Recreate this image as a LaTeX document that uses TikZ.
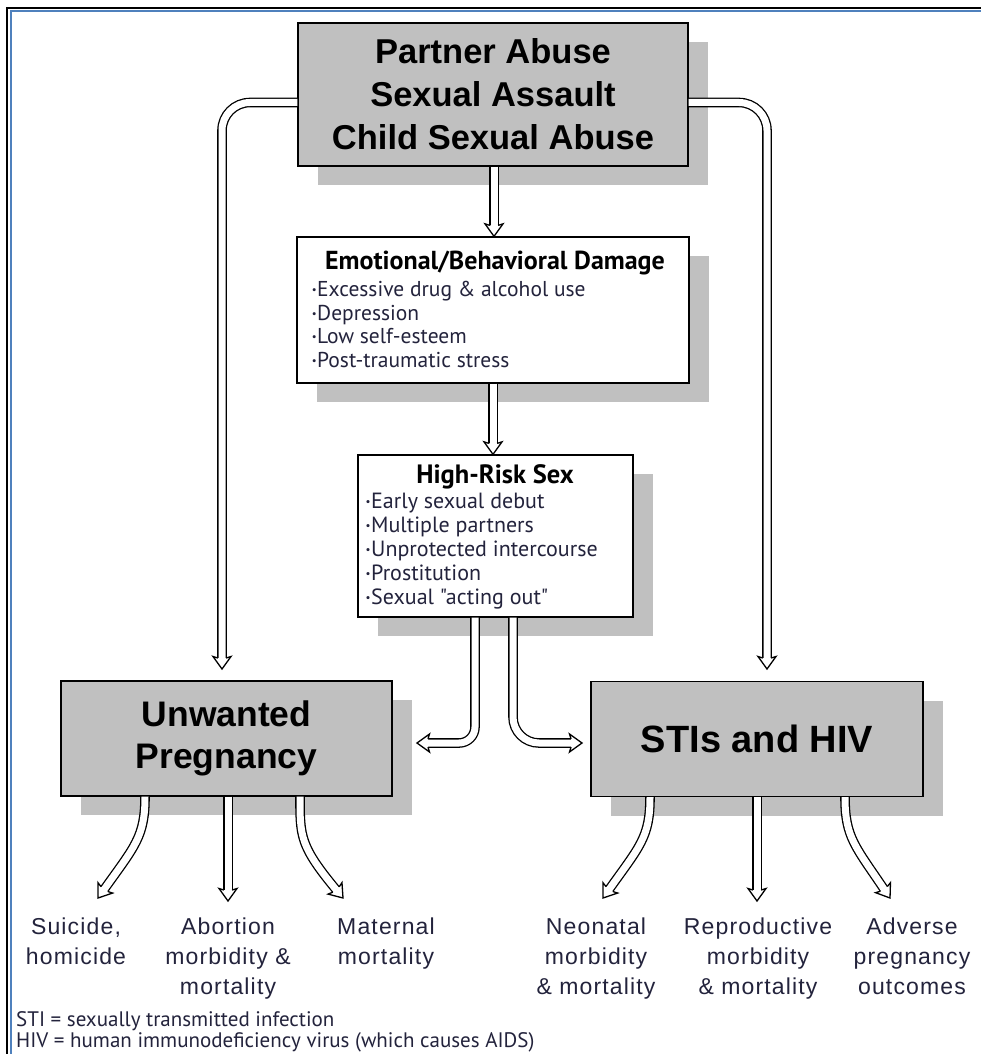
\documentclass[tikz,border=0pt]{standalone}
\usepackage{fontspec}
\setmainfont{Liberation Sans}
\newfontfamily\hum{PT Sans}
\usetikzlibrary{shadows,decorations.markings}
\definecolor{boxgray}{RGB}{192,192,192}
\definecolor{txt}{RGB}{35,35,60}
\definecolor{pageblue}{RGB}{79,129,189}
\newcommand\blt{\makebox[0pt][r]{\raisebox{.28ex}{\scalebox{.5}{•}}\kern0.5pt}}
\tikzset{
  box/.style={draw=black, line width=1.3pt, fill=boxgray, inner sep=0pt,
    general shadow={fill=boxgray, shadow xshift=20pt, shadow yshift=-19pt}},
  wbox/.style={box, fill=white},
  pipe/.style={draw=black, line width=1.3pt, double=white, double distance=7pt},
  head/.style={draw=black, fill=white, line width=1.3pt, line join=miter},
  lab/.style={font=\addfontfeature{LetterSpace=5}\fontsize{23}{30}\selectfont, text=txt, align=center, anchor=north, inner sep=0pt},
  foot/.style={font=\hum\fontsize{21}{24}\selectfont, text=txt, anchor=west, inner sep=0pt},
}
\newcommand\darrow[2][]{%
  \draw[pipe,#1,shorten >=10.5pt] #2;
  \path[decorate,decoration={markings,mark=at position 1 with {%
    \draw[head] (-11,-4.15) -- (-12.5,-9) -- (0,0) -- (-12.5,9) -- (-11,4.15);}}] #2;
}
\begin{document}
\begin{tikzpicture}[x=1pt,y=-1pt]
\useasboundingbox (0,0) rectangle (981,1054);
\fill[white] (0,0) rectangle (981,1054);
% page frame
\draw[pageblue, line width=2pt] (11,1060) -- (11,11.5) -- (990,11.5);
\draw[black, line width=2pt] (7,1060) -- (7,8) -- (990,8);

% boxes
\node[box, minimum width=390pt, minimum height=143pt, align=center,
  font=\fontsize{34.5}{43}\selectfont\bfseries] (top) at (493,94.5)
  {Partner Abuse\\Sexual Assault\\Child Sexual Abuse};
\node[wbox, minimum width=392pt, minimum height=146pt] (emo) at (493,310) {};
\node[wbox, minimum width=275pt, minimum height=162pt] (hr) at (495.5,536) {};
\node[box, minimum width=331pt, minimum height=115pt, align=center,
  font=\fontsize{35.5}{42}\selectfont\bfseries] (unw) at (226.5,738.5) {Unwanted\\Pregnancy};
\node[box, minimum width=332pt, minimum height=115pt,
  font=\fontsize{38}{42}\selectfont\bfseries] (sti) at (757,739) {STIs and HIV};

% box texts
\node[font=\hum\fontsize{26}{28}\selectfont\bfseries, inner sep=0pt] (emot) at (495,263)
  {Emotional/Behavioral Damage};
\node[font=\hum\fontsize{21.5}{23.7}\selectfont, text=txt, align=left, anchor=west, inner sep=0pt]
  (emol) at (317,324.5)
  {\blt Excessive drug \& alcohol use\\\blt Depression\\\blt Low self-esteem\\\blt Post-traumatic stress};
\node[font=\hum\fontsize{26.5}{28}\selectfont\bfseries, inner sep=0pt] (hrt) at (495,477)
  {High-Risk Sex};
\node[font=\hum\fontsize{22}{24}\selectfont, text=txt, align=left, anchor=west, inner sep=0pt]
  (hrl) at (371,551)
  {\blt Early sexual debut\\\blt Multiple partners\\\blt Unprotected intercourse\\\blt Prostitution\\\blt Sexual "acting out"};

% tips
\coordinate (tipL) at (222,669);
\coordinate (tipR) at (767,669);
\coordinate (tipHL) at (417,743);
\coordinate (tipHR) at (582,743);
\coordinate (b1) at (98,898);
\coordinate (b2) at (228,901);
\coordinate (b3) at (343,898);
\coordinate (b4) at (603,898);
\coordinate (b5) at (757,901);
\coordinate (b6) at (890,898);

% connectors
\darrow[rounded corners=28pt]{([yshift=-8pt]top.west) -| (tipL)}
\darrow[rounded corners=28pt]{([yshift=-8pt]top.east) -| (tipR)}
\darrow{([xshift=1pt]top.south) -- ([xshift=1pt]top.south |- emo.north)}
\darrow{(emo.south) -- (emo.south |- hr.north)}
\darrow[rounded corners=16pt]{([xshift=-20.5pt]hr.south) |- (tipHL)}
\darrow[rounded corners=26pt]{([xshift=17.5pt]hr.south) |- (tipHR)}

\darrow{([xshift=-81.5pt]unw.south) .. controls +(0,40) and +(37,-52) .. (b1)}
\darrow{([xshift=1.5pt]unw.south) -- (b2)}
\darrow{([xshift=73.5pt]unw.south) .. controls +(0,40) and +(-43,-52) .. (b3)}
\darrow{([xshift=-107pt]sti.south) .. controls +(0,40) and +(37,-52) .. (b4)}
\darrow{(sti.south) -- (b5)}
\darrow{([xshift=88pt]sti.south) .. controls +(0,40) and +(-35,-52) .. (b6)}

% outcome labels
\node[lab] (o1) at (76,918) {Suicide,\\homicide};
\node[lab] (o2) at (228,918) {Abortion\\morbidity \&\\mortality};
\node[lab] (o3) at (386,918) {Maternal\\mortality};
\node[lab] (o4) at (596,918) {Neonatal\\morbidity\\\& mortality};
\node[lab] (o5) at (758,918) {Reproductive\\morbidity\\\& mortality};
\node[lab] (o6) at (912,918) {Adverse\\pregnancy\\outcomes};

% footnote
\node[foot] (fn1) at (16,1021) {STI = sexually transmitted infection};
\node[foot] (fn2) at (16,1042) {HIV = human immunodeficiency virus (which causes AIDS)};
\end{tikzpicture}
\end{document}
